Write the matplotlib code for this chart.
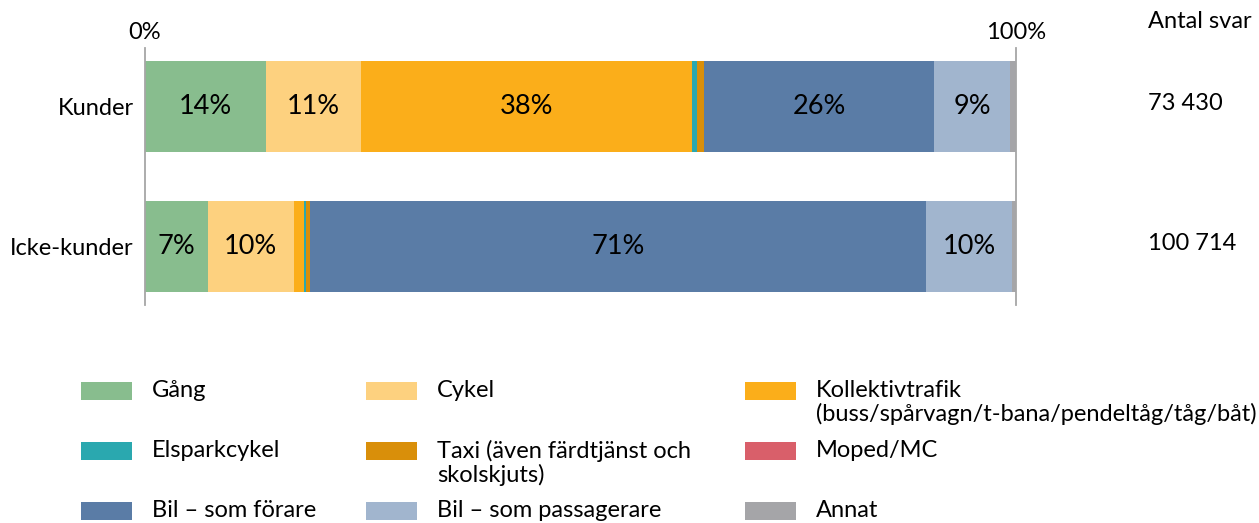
import matplotlib.pyplot as plt
from matplotlib.patches import Rectangle

plt.rcParams['font.family'] = ['Lato', 'DejaVu Sans']

# data
groups = ['Kunder', 'Icke-kunder']
antal_svar = ['73 430', '100 714']
modes = ['Gång', 'Cykel', 'Kollektivtrafik\n(buss/spårvagn/t-bana/pendeltåg/tåg/båt)',
         'Elsparkcykel', 'Taxi (även färdtjänst och\nskolskjuts)', 'Moped/MC',
         'Bil – som förare', 'Bil – som passagerare', 'Annat']
kunder = [13.9, 10.9, 38.0, 0.6, 0.8, 0.0, 26.4, 8.7, 0.7]
icke_kunder = [7.2, 9.9, 1.1, 0.3, 0.4, 0.0, 70.8, 9.8, 0.5]
colors = ['#88BD8E', '#FDD17F', '#FBAE1A', '#2AA8AF', '#D98F0A', '#D95F6A',
          '#5A7CA6', '#A1B5CE', '#A5A5A8']

values = [kunder, icke_kunder]

fig = plt.figure(figsize=(12.59, 5.23), dpi=100)
ax = fig.add_axes([145 / 1259, 1 - 305 / 523, 871 / 1259, 257 / 523])

for i, row in enumerate(values):
    left = 0
    for v, c in zip(row, colors):
        if v > 0:
            ax.barh(i, v, left=left, height=0.65, color=c, linewidth=0)
        if v >= 5:
            ax.text(left + v / 2, i, f'{round(v):.0f}%', ha='center', va='center',
                    fontsize=19.5, color='black')
        left += v

ax.set_xlim(0, 100)
ax.set_ylim(1.418, -0.418)
ax.set_yticks(range(len(groups)))
ax.set_yticklabels(groups, fontsize=17)
ax.tick_params(axis='y', length=0, pad=8)
ax.xaxis.tick_top()
ax.set_xticks([0, 100])
ax.set_xticklabels(['0%', '100%'], fontsize=17)
ax.tick_params(axis='x', length=0, pad=3.5)
for s in ['top', 'bottom']:
    ax.spines[s].set_visible(False)
for s in ['left', 'right']:
    ax.spines[s].set_color('#A6A6A6')
    ax.spines[s].set_linewidth(1.3)

# right column
fig.text(1148 / 1259, 1 - 22 / 523, 'Antal svar', fontsize=17, va='center', ha='left')
for i, n in enumerate(antal_svar):
    y = [103, 243][i]
    fig.text(1148 / 1259, 1 - y / 523, n, fontsize=17, va='center', ha='left')

# legend, row-wise in three columns
col_x = [81, 366, 745]
row_y = [391, 451, 511]
for k, (m, c) in enumerate(zip(modes, colors)):
    r, col = divmod(k, 3)
    x0 = col_x[col]
    yc = row_y[r]
    fig.patches.append(Rectangle((x0 / 1259, 1 - (yc + 9) / 523), 51 / 1259, 18 / 523,
                                 transform=fig.transFigure, color=c, linewidth=0))
    fig.text((x0 + 71) / 1259, 1 - (yc - 11) / 523, m, fontsize=17, va='top', ha='left',
             linespacing=1.1)

fig.savefig('out.png', dpi=100)
